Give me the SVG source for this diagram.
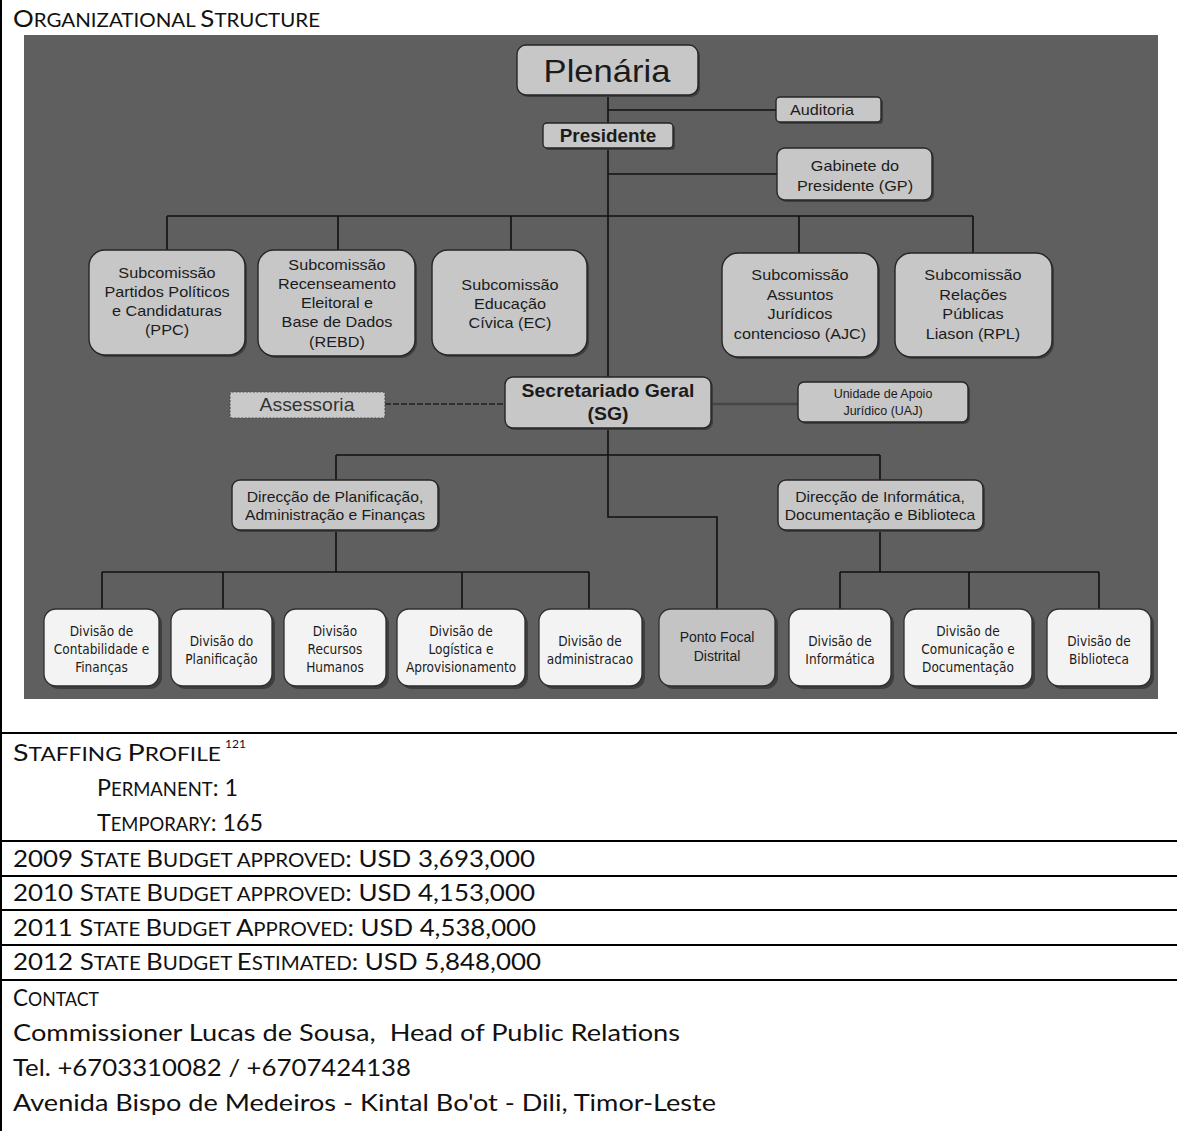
<svg xmlns="http://www.w3.org/2000/svg" width="1177" height="1131" viewBox="0 0 1177 1131">
  <style>
    .bg { fill: #ffffff; }
    .rule { stroke: #000; stroke-width: 2; fill: none; }
    .doc { font-family: Lato, "Open Sans", sans-serif; font-size: 24px; fill: #111; }
    .sc { font-size: 19px; }
    .panel { fill: #5f5f5f; }
    .link { stroke: #111; stroke-width: 1.6; fill: none; }
    .dash { stroke: #222; stroke-width: 1.6; fill: none; stroke-dasharray: 6 2; }
    .soft { stroke: #464646; stroke-width: 2.6; fill: none; }
    .shadow { fill: #3e3e3e; }
    .box { fill: #c7c7c7; stroke: #262626; stroke-width: 1.4; }
    .pale { fill: #f3f3f3; stroke: #2e2e2e; stroke-width: 1.3; }
    .mid { fill: #c4c4c4; stroke: #2e2e2e; stroke-width: 1.3; }
    .dotted { fill: #c9c9c9; stroke: #505050; stroke-width: 1.2; stroke-dasharray: 2 1.5; }
    .t { font-family: "Liberation Sans", Arial, sans-serif; fill: #1b1b1b; text-anchor: middle; }
    .b { font-weight: bold; }
    .d { font-family: "DejaVu Sans Condensed", "DejaVu Sans", sans-serif; fill: #1b1b1b; text-anchor: middle; font-size: 13.5px; }
    .sx { transform-box: fill-box; transform-origin: center; transform: scaleX(1.08); }
  </style>

  <rect class="bg" x="0" y="0" width="1177" height="1131"/>

  <!-- table rules -->
  <g id="table-rules">
    <line class="rule" x1="1" y1="0" x2="1" y2="1131"/>
    <line class="rule" x1="0" y1="733" x2="1177" y2="733"/>
    <line class="rule" x1="0" y1="841" x2="1177" y2="841"/>
    <line class="rule" x1="0" y1="876" x2="1177" y2="876"/>
    <line class="rule" x1="0" y1="910" x2="1177" y2="910"/>
    <line class="rule" x1="0" y1="945" x2="1177" y2="945"/>
    <line class="rule" x1="0" y1="980" x2="1177" y2="980"/>
  </g>

  <!-- table text -->
  <g id="table-text" class="doc">
    <text x="13" y="27" textLength="307" lengthAdjust="spacingAndGlyphs">O<tspan class="sc">RGANIZATIONAL </tspan>S<tspan class="sc">TRUCTURE</tspan></text>
    <text x="13" y="761" textLength="208" lengthAdjust="spacingAndGlyphs">S<tspan class="sc">TAFFING </tspan>P<tspan class="sc">ROFILE</tspan></text>
    <text x="225" y="748" style="font-size:12px">121</text>
    <text x="97" y="796" textLength="141" lengthAdjust="spacingAndGlyphs">P<tspan class="sc">ERMANENT</tspan>: 1</text>
    <text x="97" y="831" textLength="166" lengthAdjust="spacingAndGlyphs">T<tspan class="sc">EMPORARY</tspan>: 165</text>
    <text x="13" y="867" textLength="522" lengthAdjust="spacingAndGlyphs">2009 S<tspan class="sc">TATE </tspan>B<tspan class="sc">UDGET APPROVED</tspan>: USD 3,693,000</text>
    <text x="13" y="901" textLength="522" lengthAdjust="spacingAndGlyphs">2010 S<tspan class="sc">TATE </tspan>B<tspan class="sc">UDGET APPROVED</tspan>: USD 4,153,000</text>
    <text x="13" y="936" textLength="523" lengthAdjust="spacingAndGlyphs">2011 S<tspan class="sc">TATE </tspan>B<tspan class="sc">UDGET </tspan>A<tspan class="sc">PPROVED</tspan>: USD 4,538,000</text>
    <text x="13" y="970" textLength="528" lengthAdjust="spacingAndGlyphs">2012 S<tspan class="sc">TATE </tspan>B<tspan class="sc">UDGET </tspan>E<tspan class="sc">STIMATED</tspan>: USD 5,848,000</text>
    <text x="13" y="1006" textLength="86" lengthAdjust="spacingAndGlyphs">C<tspan class="sc">ONTACT</tspan></text>
    <text x="13" y="1041" textLength="667" lengthAdjust="spacingAndGlyphs" xml:space="preserve">Commissioner Lucas de Sousa,  Head of Public Relations</text>
    <text x="13" y="1076" textLength="398" lengthAdjust="spacingAndGlyphs">Tel. +6703310082 / +6707424138</text>
    <text x="13" y="1111" textLength="703" lengthAdjust="spacingAndGlyphs">Avenida Bispo de Medeiros - Kintal Bo'ot - Dili, Timor-Leste</text>
  </g>

  <!-- chart backdrop -->
  <rect class="panel" x="24" y="35" width="1134" height="664"/>

  <!-- connectors -->
  <g id="connectors">
    <path class="link" d="M608 95 V377"/>
    <path class="link" d="M608 110 H776"/>
    <path class="link" d="M608 174 H777"/>
    <path class="link" d="M167 216 H973"/>
    <path class="link" d="M167 216 V250 M338 216 V250 M511 216 V250 M799 216 V253 M973 216 V253"/>
    <path class="dash" d="M385 404 H505"/>
    <path class="soft" d="M711 404 H798"/>
    <path class="link" d="M608 428 V517 H717 V609"/>
    <path class="link" d="M336 455 H880 M336 455 V480 M880 455 V480"/>
    <path class="link" d="M336 530 V572 M102 572 H589 M102 572 V609 M223 572 V609 M462 572 V609 M589 572 V609"/>
    <path class="link" d="M880 530 V572 M840 572 H1099 M840 572 V609 M969 572 V609 M1099 572 V609"/>
  </g>

  <!-- top level -->
  <g id="plenaria">
    <rect class="shadow" x="519" y="47" width="181" height="50" rx="9"/>
    <rect class="box" x="517" y="45" width="181" height="50" rx="9"/>
    <text class="t sx" x="607" y="82" font-size="32">Plenária</text>
  </g>
  <g id="auditoria">
    <rect class="shadow" x="778" y="99" width="105" height="25" rx="4"/>
    <rect class="box" x="776" y="97" width="105" height="25" rx="4"/>
    <text class="t sx" x="822" y="115" font-size="15">Auditoria</text>
  </g>
  <g id="presidente">
    <rect class="shadow" x="545" y="125" width="130" height="25" rx="4"/>
    <rect class="box" x="543" y="123" width="130" height="25" rx="4"/>
    <text class="t b sx" x="608" y="142" font-size="17.5">Presidente</text>
  </g>
  <g id="gabinete">
    <rect class="shadow" x="779" y="150" width="155" height="52" rx="8"/>
    <rect class="box" x="777" y="148" width="155" height="52" rx="8"/>
    <text class="t sx" font-size="15"><tspan x="855" y="171">Gabinete do</tspan><tspan x="855" y="191">Presidente (GP)</tspan></text>
  </g>

  <!-- subcommissions -->
  <g id="sub-ppc">
    <rect class="shadow" x="91" y="252" width="156" height="105" rx="16"/>
    <rect class="box" x="89" y="250" width="156" height="105" rx="16"/>
    <text class="t sx" font-size="15"><tspan x="167" y="278">Subcomissão</tspan><tspan x="167" y="297">Partidos Políticos</tspan><tspan x="167" y="316">e Candidaturas</tspan><tspan x="167" y="335">(PPC)</tspan></text>
  </g>
  <g id="sub-rebd">
    <rect class="shadow" x="260" y="252" width="157" height="106" rx="16"/>
    <rect class="box" x="258" y="250" width="157" height="106" rx="16"/>
    <text class="t sx" font-size="15"><tspan x="337" y="270">Subcomissão</tspan><tspan x="337" y="289">Recenseamento</tspan><tspan x="337" y="308">Eleitoral e</tspan><tspan x="337" y="327">Base de Dados</tspan><tspan x="337" y="347">(REBD)</tspan></text>
  </g>
  <g id="sub-ec">
    <rect class="shadow" x="434" y="252" width="155" height="105" rx="16"/>
    <rect class="box" x="432" y="250" width="155" height="105" rx="16"/>
    <text class="t sx" font-size="15"><tspan x="510" y="290">Subcomissão</tspan><tspan x="510" y="309">Educação</tspan><tspan x="510" y="328">Cívica (EC)</tspan></text>
  </g>
  <g id="sub-ajc">
    <rect class="shadow" x="724" y="255" width="156" height="104" rx="16"/>
    <rect class="box" x="722" y="253" width="156" height="104" rx="16"/>
    <text class="t sx" font-size="15"><tspan x="800" y="280">Subcomissão</tspan><tspan x="800" y="300">Assuntos</tspan><tspan x="800" y="319">Jurídicos</tspan><tspan x="800" y="339">contencioso (AJC)</tspan></text>
  </g>
  <g id="sub-rpl">
    <rect class="shadow" x="897" y="255" width="157" height="104" rx="16"/>
    <rect class="box" x="895" y="253" width="157" height="104" rx="16"/>
    <text class="t sx" font-size="15"><tspan x="973" y="280">Subcomissão</tspan><tspan x="973" y="300">Relações</tspan><tspan x="973" y="319">Públicas</tspan><tspan x="973" y="339">Liason (RPL)</tspan></text>
  </g>

  <!-- secretariat row -->
  <g id="assessoria">
    <rect class="dotted" x="230" y="392" width="155" height="26" rx="2"/>
    <text class="t sx" x="307" y="411" font-size="18" style="fill:#333">Assessoria</text>
  </g>
  <g id="secretariado">
    <rect class="shadow" x="507" y="379" width="206" height="51" rx="8"/>
    <rect class="box" x="505" y="377" width="206" height="51" rx="8"/>
    <text class="t b sx" font-size="18"><tspan x="608" y="397">Secretariado Geral</tspan><tspan x="608" y="420">(SG)</tspan></text>
  </g>
  <g id="uaj">
    <rect class="shadow" x="800" y="384" width="170" height="40" rx="6"/>
    <rect class="box" x="798" y="382" width="170" height="40" rx="6"/>
    <text class="t" font-size="12.5"><tspan x="883" y="398">Unidade de Apoio</tspan><tspan x="883" y="415">Jurídico (UAJ)</tspan></text>
  </g>

  <!-- directorates -->
  <g id="dir-paf">
    <rect class="shadow" x="234" y="482" width="206" height="50" rx="8"/>
    <rect class="box" x="232" y="480" width="206" height="50" rx="8"/>
    <text class="t sx" font-size="14.5"><tspan x="335" y="502">Direcção de Planificação,</tspan><tspan x="335" y="520">Administração e Finanças</tspan></text>
  </g>
  <g id="dir-idb">
    <rect class="shadow" x="780" y="482" width="205" height="50" rx="8"/>
    <rect class="box" x="778" y="480" width="205" height="50" rx="8"/>
    <text class="t sx" font-size="14.5"><tspan x="880" y="502">Direcção de Informática,</tspan><tspan x="880" y="520">Documentação e Biblioteca</tspan></text>
  </g>

  <!-- divisions -->
  <g id="div-contabilidade">
    <rect class="shadow" x="47" y="612" width="115" height="77" rx="12"/>
    <rect class="pale" x="44" y="609" width="115" height="77" rx="12"/>
    <text class="d"><tspan x="101.5" y="636">Divisão de</tspan><tspan x="101.5" y="654">Contabilidade e</tspan><tspan x="101.5" y="672">Finanças</tspan></text>
  </g>
  <g id="div-planificacao">
    <rect class="shadow" x="174" y="612" width="101" height="77" rx="12"/>
    <rect class="pale" x="171" y="609" width="101" height="77" rx="12"/>
    <text class="d"><tspan x="221.5" y="646">Divisão do</tspan><tspan x="221.5" y="664">Planificação</tspan></text>
  </g>
  <g id="div-rh">
    <rect class="shadow" x="287" y="612" width="102" height="77" rx="12"/>
    <rect class="pale" x="284" y="609" width="102" height="77" rx="12"/>
    <text class="d"><tspan x="335" y="636">Divisão</tspan><tspan x="335" y="654">Recursos</tspan><tspan x="335" y="672">Humanos</tspan></text>
  </g>
  <g id="div-logistica">
    <rect class="shadow" x="400" y="612" width="128" height="77" rx="12"/>
    <rect class="pale" x="397" y="609" width="128" height="77" rx="12"/>
    <text class="d"><tspan x="461" y="636">Divisão de</tspan><tspan x="461" y="654">Logística e</tspan><tspan x="461" y="672">Aprovisionamento</tspan></text>
  </g>
  <g id="div-administracao">
    <rect class="shadow" x="542" y="612" width="103" height="77" rx="12"/>
    <rect class="pale" x="539" y="609" width="103" height="77" rx="12"/>
    <text class="d"><tspan x="590" y="646">Divisão de</tspan><tspan x="590" y="664">administracao</tspan></text>
  </g>
  <g id="ponto-focal">
    <rect class="shadow" x="662" y="612" width="116" height="77" rx="12"/>
    <rect class="mid" x="659" y="609" width="116" height="77" rx="12"/>
    <text class="t" font-size="14"><tspan x="717" y="642">Ponto Focal</tspan><tspan x="717" y="661">Distrital</tspan></text>
  </g>
  <g id="div-informatica">
    <rect class="shadow" x="792" y="612" width="102" height="77" rx="12"/>
    <rect class="pale" x="789" y="609" width="102" height="77" rx="12"/>
    <text class="d"><tspan x="840" y="646">Divisão de</tspan><tspan x="840" y="664">Informática</tspan></text>
  </g>
  <g id="div-comunicacao">
    <rect class="shadow" x="907" y="612" width="128" height="77" rx="12"/>
    <rect class="pale" x="904" y="609" width="128" height="77" rx="12"/>
    <text class="d"><tspan x="968" y="636">Divisão de</tspan><tspan x="968" y="654">Comunicação e</tspan><tspan x="968" y="672">Documentação</tspan></text>
  </g>
  <g id="div-biblioteca">
    <rect class="shadow" x="1050" y="612" width="104" height="77" rx="12"/>
    <rect class="pale" x="1047" y="609" width="104" height="77" rx="12"/>
    <text class="d"><tspan x="1099" y="646">Divisão de</tspan><tspan x="1099" y="664">Biblioteca</tspan></text>
  </g>
</svg>
